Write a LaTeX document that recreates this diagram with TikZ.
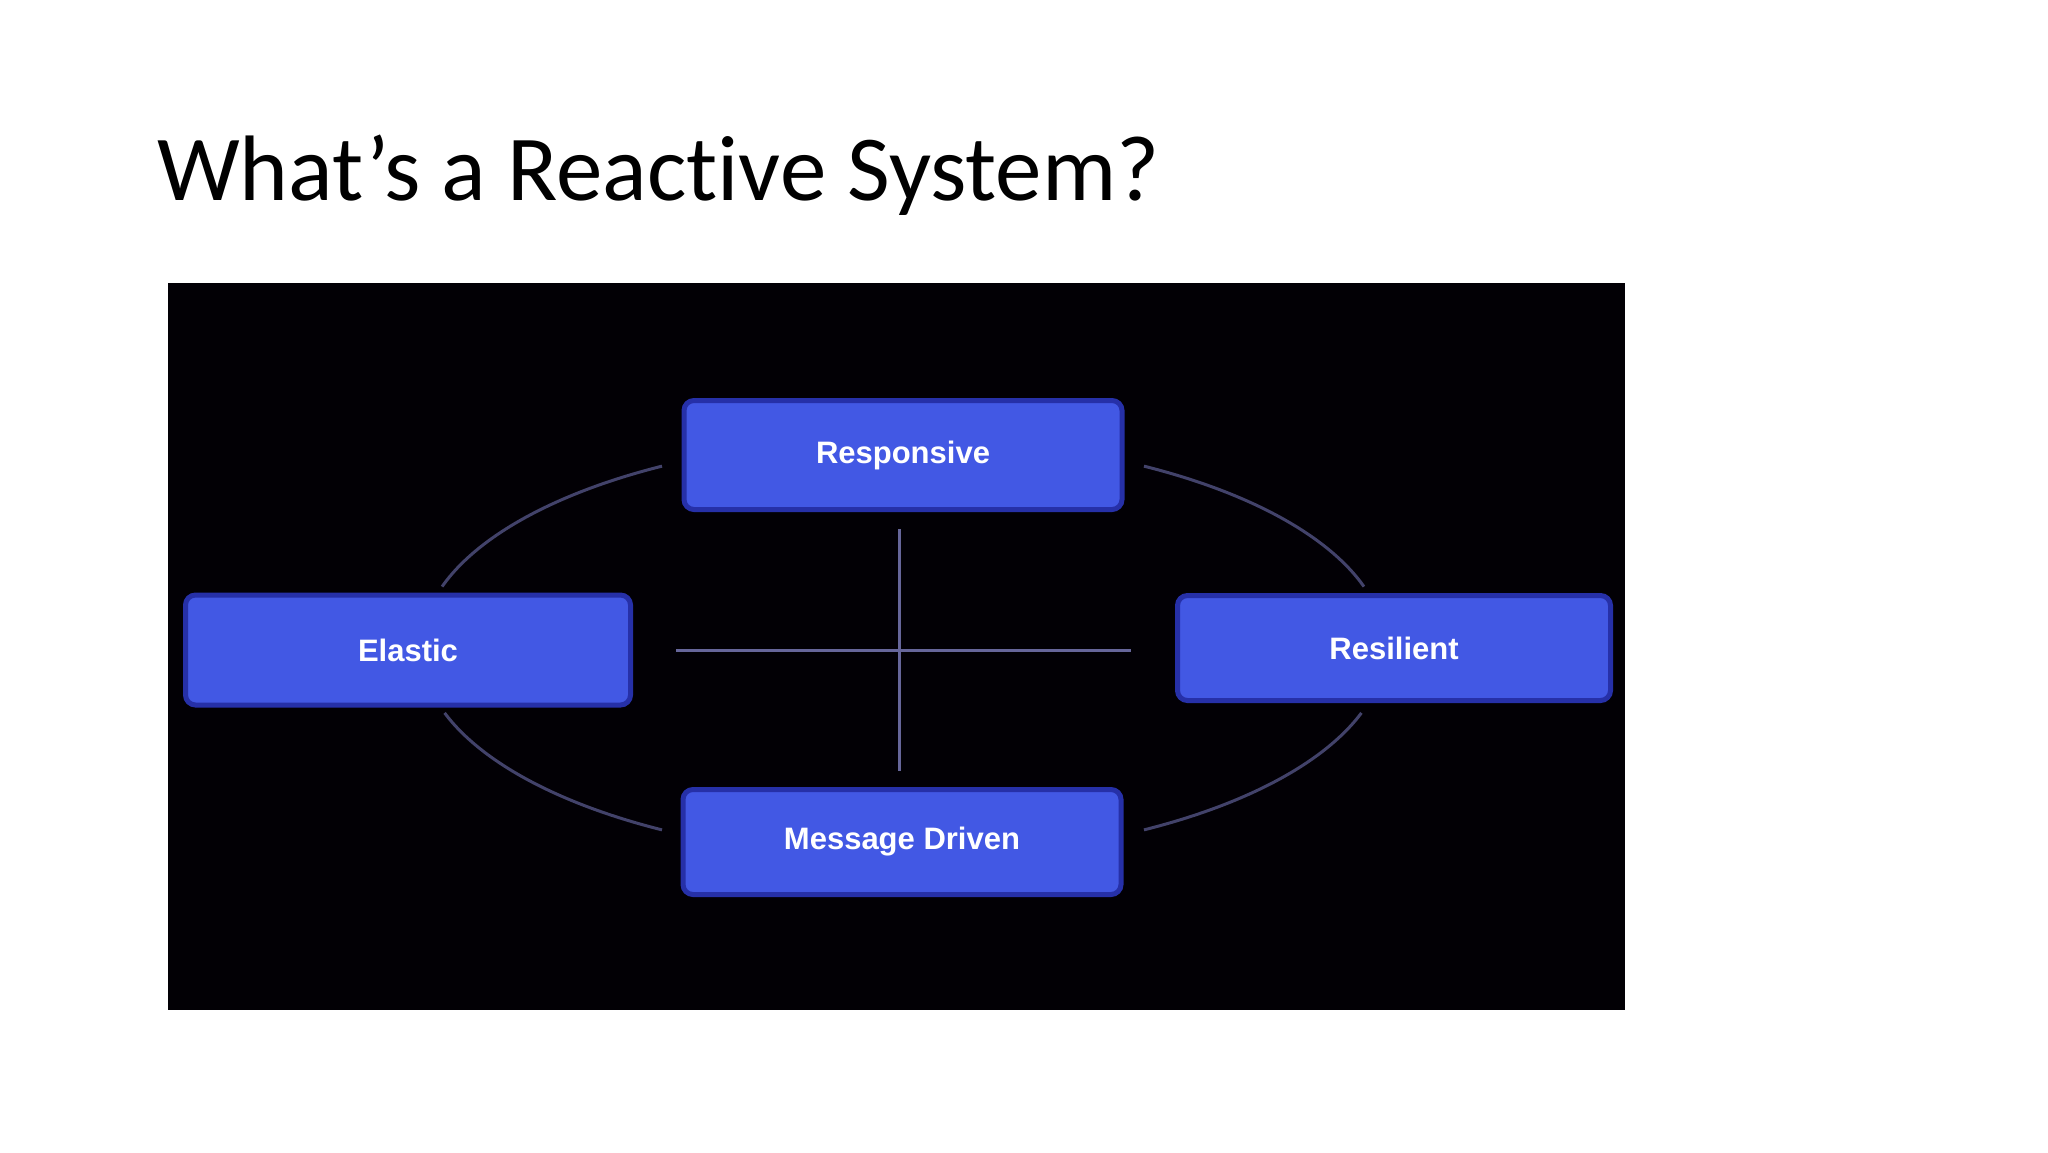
\documentclass[tikz,border=0pt]{standalone}
\usepackage{fontspec}
\usetikzlibrary{calc}
\setmainfont{Liberation Sans}
\newfontfamily\titlefont[Ligatures=NoCommon]{Carlito}
\definecolor{boxblue}{HTML}{4258E4}
\definecolor{boxglow}{HTML}{2630A8}
\definecolor{panel}{HTML}{020005}
\definecolor{arcline}{HTML}{42426A}
\definecolor{crossline}{HTML}{66669A}
\tikzset{
  trait/.style={draw=boxglow, line width=5pt, fill=boxblue, rounded corners=10pt,
    text=white, font=\fontsize{31}{31}\selectfont\bfseries, inner sep=0pt},
  ringline/.style={draw=arcline, line width=3pt},
  crossl/.style={draw=crossline, line width=3pt}
}
\begin{document}
\begin{tikzpicture}[x=1pt,y=1pt]
\useasboundingbox[fill=white] (0,0) rectangle (2048,-1152);
\node[anchor=base west, inner sep=0pt, font=\titlefont\fontsize{93}{93}\selectfont] (title) at (157,-200) {What’s a Reactive System?};
\fill[panel] (168,-283) rectangle (1625,-1010);
\node[trait, minimum width=438pt, minimum height=109pt] (resp) at (903,-455) {Responsive};
\node[trait, minimum width=445pt, minimum height=110pt] (elas) at (408,-650) {Elastic};
\node[trait, minimum width=433pt, minimum height=105pt] (resi) at (1394,-648) {Resilient};
\node[trait, minimum width=438pt, minimum height=105pt] (msg) at (902,-842) {Message Driven};
% crossing lines
\coordinate (vtop) at (899,-529);
\coordinate (vbot) at (899,-771);
\coordinate (hl) at (676,-650);
\coordinate (hr) at (1131,-650);
\draw[crossl] (vtop) -- (vbot);
\draw[crossl] (hl) -- (hr);
% ring arcs (ellipse centre 903,-648; radii 482 x 210)
\coordinate (ringc) at (903,-648);
\coordinate (a1) at ($(ringc)+(120:482pt and 210pt)$);
\coordinate (a2) at ($(ringc)+(17:482pt and 210pt)$);
\coordinate (a3) at ($(ringc)+(198:482pt and 210pt)$);
\coordinate (a4) at ($(ringc)+(300:482pt and 210pt)$);
\draw[ringline] (a1) arc[start angle=120, end angle=163, x radius=482pt, y radius=210pt];
\draw[ringline] (a2) arc[start angle=17, end angle=60, x radius=482pt, y radius=210pt];
\draw[ringline] (a3) arc[start angle=198, end angle=240, x radius=482pt, y radius=210pt];
\draw[ringline] (a4) arc[start angle=300, end angle=342, x radius=482pt, y radius=210pt];
\end{tikzpicture}
\end{document}
